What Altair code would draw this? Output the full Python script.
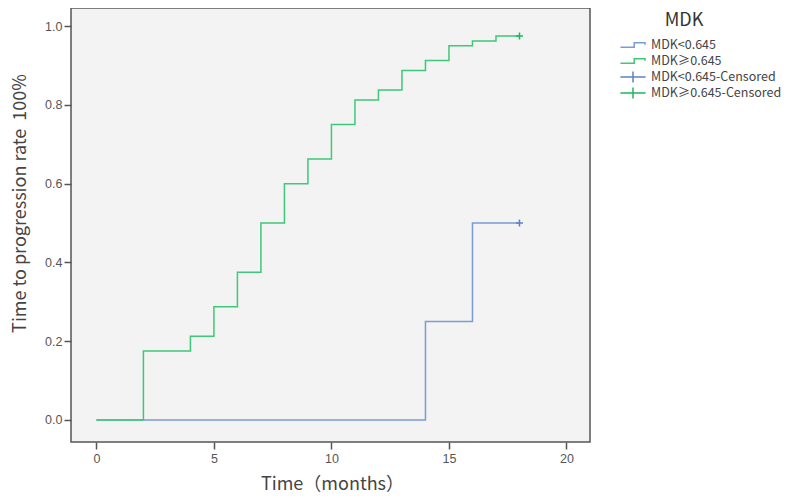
import altair as alt
import pandas as pd

# ---- data ----
low_label = "MDK<0.645"
high_label = "MDK\u22650.645"
low_cens_label = "MDK<0.645-Censored"
high_cens_label = "MDK\u22650.645-Censored"

high_time = [0, 2, 4, 5, 6, 7, 8, 9, 10, 11, 12, 13, 14, 15, 16, 17, 18]
high_rate = [0.0, 0.175, 0.2125, 0.2875, 0.375, 0.5, 0.6, 0.6625, 0.75, 0.8125,
             0.8375, 0.8875, 0.9125, 0.95, 0.9625, 0.975, 0.975]
low_time = [0, 14, 16, 18]
low_rate = [0.0, 0.25, 0.5, 0.5]

cens_time = [18, 18]
cens_rate = [0.5, 0.975]
cens_group = [low_cens_label, high_cens_label]

x_ticks = [0, 5, 10, 15, 20]
y_ticks = [0.0, 0.2, 0.4, 0.6, 0.8, 1.0]

domain = [low_label, high_label, low_cens_label, high_cens_label]
colors = ["#7b9bd5", "#3ec878", "#5a82c8", "#1db85c"]
step_path = "M-2.1,0.36 H0.2 V-0.36 H2.0 V-0.05"
legend_cross_path = "M-2.1,0 H2.1 M0,-0.9 V0.9"
shapes = [step_path, step_path, legend_cross_path, legend_cross_path]
mark_cross_path = "M-1,0 H1 M0,-1 V1"

low_df = pd.DataFrame({"t": low_time, "r": low_rate, "g": low_label})
high_df = pd.DataFrame({"t": high_time, "r": high_rate, "g": high_label})
cens_df = pd.DataFrame({"t": cens_time, "r": cens_rate, "g": cens_group})

W, H = 519, 434
xscale = alt.Scale(domain=[-1.08, 21.0], nice=False, zero=False)
yscale = alt.Scale(domain=[-0.056, 1.046], nice=False, zero=False)
cscale = alt.Scale(domain=domain, range=colors)
sscale = alt.Scale(domain=domain, range=shapes)

label_font = "Liberation Sans"
title_font = "Noto Sans CJK SC"

xaxis = alt.Axis(values=x_ticks, title="Time\uff08months\uff09", grid=False, domain=False,
                 tickSize=7, tickWidth=1.5, tickColor="#555", labelPadding=3,
                 labelFont=label_font, labelFontSize=12.5, labelColor="#555",
                 titleFont=title_font, titleFontSize=18, titleFontWeight="normal",
                 titleColor="#444", titleX=261, titleY=42, titleBaseline="middle",
                 titleAnchor="start", titleAlign="center")
yaxis = alt.Axis(values=y_ticks, format=".1f", title="Time to progression rate\u00a0 100%",
                 grid=False, domain=False,
                 tickSize=7, tickWidth=1.5, tickColor="#555", labelPadding=2,
                 labelFont=label_font, labelFontSize=12.5, labelColor="#555",
                 titleFont=title_font, titleFontSize=18, titleFontWeight="normal",
                 titleColor="#444", titleX=-51, titleY=195, titleAngle=270,
                 titleBaseline="middle", titleAlign="center", titleAnchor="start")

legend = alt.Legend(title=None, orient="none", legendX=555, legendY=30,
                    labelFont=title_font, labelFontSize=12.5, labelColor="#444",
                    labelOffset=11, symbolSize=144, symbolStrokeWidth=1.5,
                    symbolOpacity=1, rowPadding=-2, gridAlign="all",
                    symbolFillColor="transparent")

lines_low = alt.Chart(low_df).mark_line(interpolate="step-after", strokeWidth=1.5).encode(
    x=alt.X("t:Q", scale=xscale, axis=xaxis),
    y=alt.Y("r:Q", scale=yscale, axis=yaxis),
    color=alt.Color("g:N", scale=cscale, legend=legend),
)
lines_high = alt.Chart(high_df).mark_line(interpolate="step-after", strokeWidth=1.5).encode(
    x=alt.X("t:Q", scale=xscale),
    y=alt.Y("r:Q", scale=yscale),
    color=alt.Color("g:N", scale=cscale, legend=legend),
)
cens = alt.Chart(cens_df).mark_point(filled=False, strokeWidth=1.5, size=49,
                                     shape=mark_cross_path, opacity=1).encode(
    x=alt.X("t:Q", scale=xscale),
    y=alt.Y("r:Q", scale=yscale),
    color=alt.Color("g:N", scale=cscale, legend=legend),
)
legend_layer = alt.Chart(cens_df).mark_point(filled=False, opacity=0).encode(
    x=alt.X("t:Q", scale=xscale),
    y=alt.Y("r:Q", scale=yscale),
    color=alt.Color("g:N", scale=cscale, legend=legend),
    shape=alt.Shape("g:N", scale=sscale, legend=legend),
)

chart = alt.layer(lines_low, lines_high, cens, legend_layer).properties(
    width=W, height=H,
    title=alt.TitleParams(text="MDK", orient="top", anchor="start", frame="group",
                          align="center", baseline="top", offset=0,
                          dx=613, dy=22, font=title_font, fontSize=18,
                          fontWeight="normal", color="#333"),
    autosize=alt.AutoSizeParams(type="none"),
    padding={"left": 63, "top": 0, "right": 191, "bottom": 56},
    background="white",
).configure_view(fill="#f3f3f3", stroke="#555", strokeWidth=1.5)

chart.save("out.html", embed_options={"renderer": "svg", "actions": False})
